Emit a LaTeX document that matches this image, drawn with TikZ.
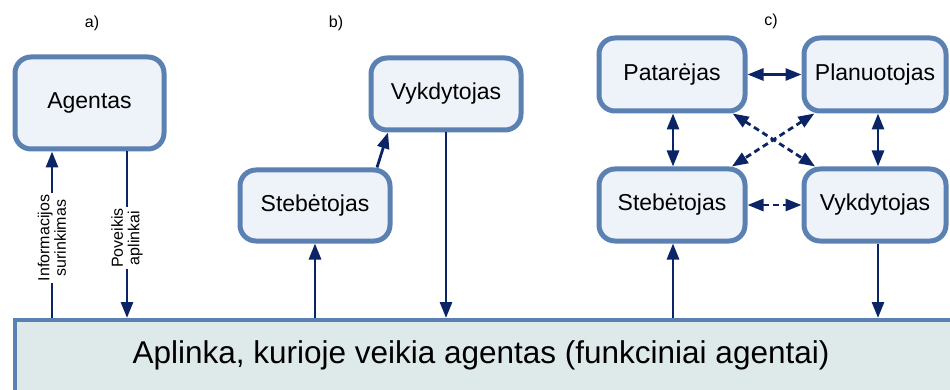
\documentclass[tikz,border=0pt]{standalone}
\usepackage{fontspec}
\setmainfont{Liberation Sans}
\usetikzlibrary{arrows.meta}
\definecolor{boxborder}{HTML}{5B80B2}
\definecolor{boxfill}{HTML}{EEF3FA}
\definecolor{envfill}{HTML}{DEE9E9}
\definecolor{arrowc}{HTML}{0B2466}
\begin{document}
\begin{tikzpicture}[x=1pt,y=-1pt,
  unit/.style={draw=boxborder, line width=5pt, fill=boxfill, rounded corners=16pt,
    font=\fontsize{23}{27}\selectfont, inner sep=0pt},
  envbox/.style={draw=boxborder, line width=4pt, fill=envfill, inner sep=0pt},
  tip/.tip={Triangle[length=16pt,width=12pt]},
  arr/.style={draw=arrowc, line width=2.8pt, -tip},
  biarr/.style={draw=arrowc, line width=2.8pt, tip-tip},
  dasharr/.style={biarr, dash pattern=on 6pt off 4pt},
  part/.style={font=\fontsize{16}{18}\selectfont, inner sep=0pt},
  lbl/.style={font=\fontsize{16}{16.5}\selectfont, align=center, rotate=90,
    fill=white, inner sep=1.5pt}
]
\useasboundingbox (0,0) rectangle (950,390);
\clip (0,0) rectangle (950,390);

% environment strip along the bottom
\node[envbox, anchor=north west, minimum width=1000pt, minimum height=90pt] (env) at (13,318) {};
\node[font=\fontsize{31.5}{36}\selectfont, inner sep=0pt] (envtext) at (481,355)
  {Aplinka, kurioje veikia agentas (funkciniai agentai)};

% part labels
\node[part] (pa) at (92,23) {a)};
\node[part] (pb) at (336,23) {b)};
\node[part] (pc) at (771,21) {c)};

% a) single agent
\node[unit, minimum width=149pt, minimum height=92pt] (agent) at (89.5,103) {Agentas};
\draw[arr] ([xshift=-37.5pt]agent.south |- env.north) -- ([xshift=-37.5pt]agent.south)
  node[lbl, pos=0.48] (infolbl) {Informacijos\\surinkimas};
\draw[arr] ([xshift=37.5pt]agent.south) -- ([xshift=37.5pt]agent.south |- env.north)
  node[lbl, pos=0.52] (actlbl) {Poveikis\\aplinkai};

% b) observer and executor
\node[unit, minimum width=150pt, minimum height=71pt] (stb) at (315,205.5) {Stebėtojas};
\node[unit, minimum width=150pt, minimum height=72pt] (vkb) at (446,94) {Vykdytojas};
\draw[arr] (stb.south |- env.north) -- (stb.south);
\draw[arr] ([xshift=62pt]stb.north) -- ([xshift=-58pt]vkb.south);
\draw[arr] (vkb.south) -- (vkb.south |- env.north);

% c) adviser, planner, observer, executor
\node[unit, minimum width=146pt, minimum height=73pt] (pat) at (672,74.5) {Patarėjas};
\node[unit, minimum width=142pt, minimum height=73pt] (plan) at (875,74.5) {Planuotojas};
\node[unit, minimum width=146pt, minimum height=72pt] (stc) at (672,205) {Stebėtojas};
\node[unit, minimum width=142pt, minimum height=72pt] (vkc) at (875,205) {Vykdytojas};

\draw[biarr] (pat.east) -- (plan.west);
\draw[biarr] ([xshift=1pt]pat.south) -- ([xshift=1pt]stc.north);
\draw[biarr] ([xshift=3pt]plan.south) -- ([xshift=3pt]vkc.north);
\draw[dasharr] (stc.east) -- (vkc.west);
\draw[dasharr] (pat) -- (vkc);
\draw[dasharr] (plan) -- (stc);
\draw[arr] ([xshift=1pt]stc.south |- env.north) -- ([xshift=1pt]stc.south);
\draw[arr] ([xshift=3pt]vkc.south) -- ([xshift=3pt]vkc.south |- env.north);
\end{tikzpicture}
\end{document}
